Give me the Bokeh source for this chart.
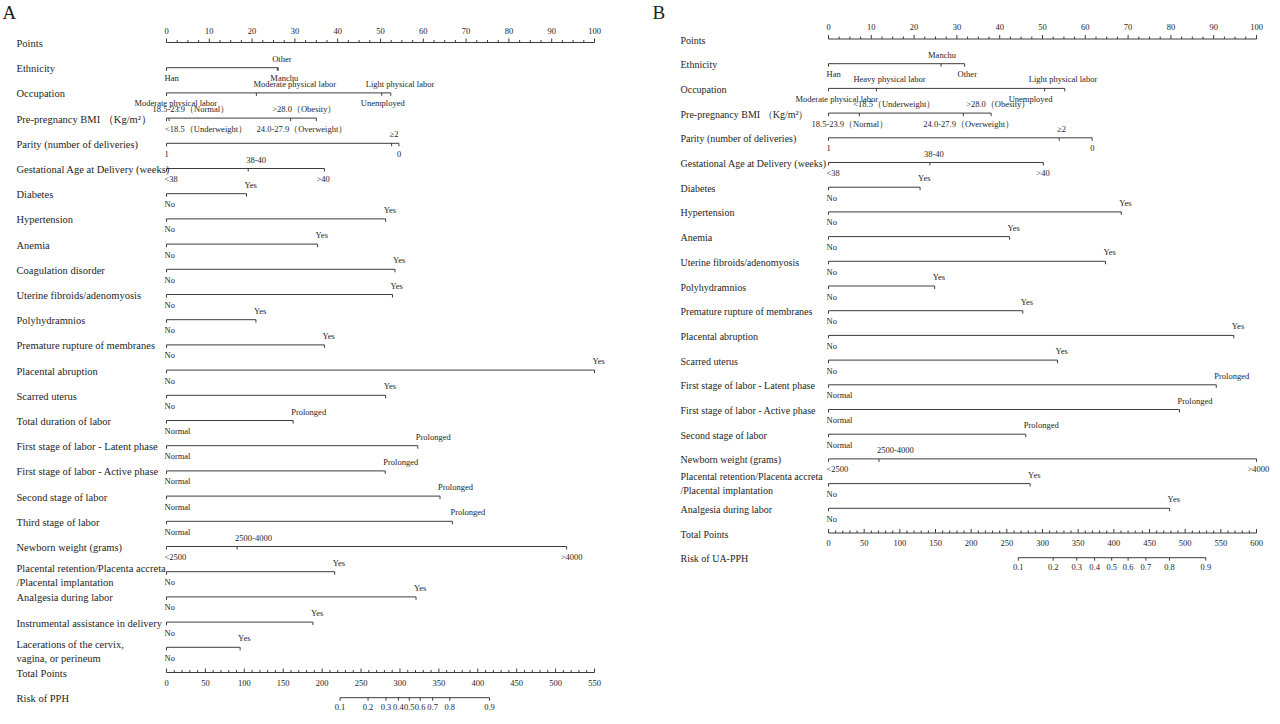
import numpy as np
from bokeh.plotting import figure
from bokeh.layouts import row
from bokeh.models import Range1d
from bokeh.core.properties import value
from bokeh.embed import file_html
from bokeh.resources import INLINE

# ---------------- data: panel A (PPH) ----------------
A_variables = [
    "Ethnicity", "Occupation", "Pre-pregnancy BMI （Kg/m²）", "Parity (number of deliveries)",
    "Gestational Age at Delivery (weeks)", "Diabetes", "Hypertension", "Anemia",
    "Coagulation disorder", "Uterine fibroids/adenomyosis", "Polyhydramnios",
    "Premature rupture of membranes", "Placental abruption", "Scarred uterus",
    "Total duration of labor", "First stage of labor - Latent phase",
    "First stage of labor - Active phase", "Second stage of labor", "Third stage of labor",
    "Newborn weight (grams)", "Placental retention/Placenta accreta\n/Placental implantation",
    "Analgesia during labor", "Instrumental assistance in delivery",
    "Lacerations of the cervix,\nvagina, or perineum",
]
YN = ["No", "Yes"]
NP = ["Normal", "Prolonged"]
BMI_LEVELS = ["18.5-23.9（Normal）", "<18.5（Underweight）", "24.0-27.9（Overweight）", ">28.0（Obesity）"]
A_levels = [
    ["Han", "Manchu", "Other"],
    ["Moderate physical labor", "Moderate physical labor", "Unemployed", "Light physical labor"],
    BMI_LEVELS,
    ["1", "≥2", "0"],
    ["<38", "38-40", ">40"],
    YN, YN, YN, YN, YN, YN, YN, YN, YN,
    NP, NP, NP, NP, NP,
    ["<2500", "2500-4000", ">4000"],
    YN, YN, YN, YN,
]
A_points = [
    [0, 25.9, 26.1],
    [0, 21.0, 50.3, 52.4],
    [0, 0.6, 29.0, 35.0],
    [0, 52.6, 54.3],
    [0, 19.1, 36.9],
    [0, 18.7], [0, 51.2], [0, 35.3], [0, 53.4], [0, 52.8], [0, 20.9], [0, 36.9],
    [0, 100.0], [0, 51.2],
    [0, 29.6], [0, 58.7], [0, 51.1], [0, 63.9], [0, 66.8],
    [0, 16.5, 93.5],
    [0, 39.3], [0, 58.3], [0, 34.2], [0, 17.2],
]
A_total_max = 550
A_risk_probs = [0.1, 0.2, 0.3, 0.4, 0.5, 0.6, 0.7, 0.8, 0.9]
A_risk_totals = [223, 259, 282, 298, 312, 326, 342, 364, 415]

# ---------------- data: panel B (UA-PPH) ----------------
B_variables = [
    "Ethnicity", "Occupation", "Pre-pregnancy BMI （Kg/m²）", "Parity (number of deliveries)",
    "Gestational Age at Delivery (weeks)", "Diabetes", "Hypertension", "Anemia",
    "Uterine fibroids/adenomyosis", "Polyhydramnios", "Premature rupture of membranes",
    "Placental abruption", "Scarred uterus", "First stage of labor - Latent phase",
    "First stage of labor - Active phase", "Second stage of labor", "Newborn weight (grams)",
    "Placental retention/Placenta accreta\n/Placental implantation", "Analgesia during labor",
]
B_levels = [
    ["Han", "Manchu", "Other"],
    ["Moderate physical labor", "Heavy physical labor", "Unemployed", "Light physical labor"],
    BMI_LEVELS,
    ["1", "≥2", "0"],
    ["<38", "38-40", ">40"],
    YN, YN, YN, YN, YN, YN, YN, YN,
    NP, NP, NP,
    ["<2500", "2500-4000", ">4000"],
    YN, YN,
]
B_points = [
    [0, 26.3, 31.8],
    [0, 11.2, 50.5, 55.2],
    [0, 7.2, 31.5, 38.0],
    [0, 53.9, 61.6],
    [0, 23.7, 50.2],
    [0, 21.4], [0, 68.4], [0, 42.3], [0, 64.7], [0, 24.8], [0, 45.4], [0, 94.7], [0, 53.5],
    [0, 90.6], [0, 82.0], [0, 46.1],
    [0, 11.8, 100.0],
    [0, 47.1], [0, 79.7],
]
B_total_max = 600
B_risk_probs = [0.1, 0.2, 0.3, 0.4, 0.5, 0.6, 0.7, 0.8, 0.9]
B_risk_totals = [266, 315, 348, 373, 397, 420, 445, 478, 529]

# ---------------- layout (label placement) ----------------
A_sides = {"Ethnicity": "bba", "Occupation": "baba", "Pre-pregnancy BMI （Kg/m²）": "abba",
           "Parity (number of deliveries)": "bab", "Gestational Age at Delivery (weeks)": "bab",
           "Newborn weight (grams)": "bab"}
B_sides = {"Ethnicity": "bab", "Occupation": "baba", "Pre-pregnancy BMI （Kg/m²）": "baba",
           "Parity (number of deliveries)": "bab", "Gestational Age at Delivery (weeks)": "bab",
           "Newborn weight (grams)": "bab"}
A_nudge = {("Ethnicity", 1): -7, ("Ethnicity", 2): -6,
           ("Occupation", 0): -32, ("Occupation", 1): -3, ("Occupation", 2): -21, ("Occupation", 3): -25,
           ("Pre-pregnancy BMI （Kg/m²）", 0): -14, ("Pre-pregnancy BMI （Kg/m²）", 1): -4,
           ("Pre-pregnancy BMI （Kg/m²）", 2): -34, ("Pre-pregnancy BMI （Kg/m²）", 3): -44,
           ("Gestational Age at Delivery (weeks)", 2): -8, ("Newborn weight (grams)", 2): -6}
B_nudge = {("Ethnicity", 1): -13, ("Ethnicity", 2): -7,
           ("Occupation", 0): -33, ("Occupation", 1): -23, ("Occupation", 2): -36, ("Occupation", 3): -36,
           ("Pre-pregnancy BMI （Kg/m²）", 0): -17, ("Pre-pregnancy BMI （Kg/m²）", 1): -6,
           ("Pre-pregnancy BMI （Kg/m²）", 2): -40, ("Pre-pregnancy BMI （Kg/m²）", 3): -25,
           ("Gestational Age at Delivery (weeks)", 1): -6, ("Gestational Age at Delivery (weeks)", 2): -7,
           ("Newborn weight (grams)", 2): -9}

FONT = "Liberation Serif"
LINE = "#3c3c3c"
TXT = "#1e1e1e"
H = 716


def panel(letter, variables, levels, points, sides, nudge, total_max, risk_probs, risk_totals,
          risk_title, width, zero_px, ppt, row0_px, row_px, label_px, letter_px, row_fs, wrap_dy):
    x_start = -zero_px / ppt
    x_end = x_start + width / ppt
    y_top = -row0_px / row_px
    y_bot = y_top + H / row_px
    p = figure(width=width, height=H, x_range=Range1d(x_start, x_end),
               y_range=Range1d(y_bot, y_top), output_backend="svg", toolbar_location=None,
               x_axis_type=None, y_axis_type=None, min_border=0, outline_line_color=None)
    p.grid.visible = False
    dx = lambda px: px / ppt
    dy = lambda px: px / row_px
    lab_x = x_start + dx(label_px)

    sx0, sy0, sx1, sy1 = [], [], [], []
    small = {"x": [], "y": [], "t": []}
    rowlab = {"x": [], "y": [], "t": []}

    def seg(a, b, c, d):
        sx0.append(a); sy0.append(b); sx1.append(c); sy1.append(d)

    def add_small(x, y, t):
        small["x"].append(x); small["y"].append(y); small["t"].append(t)

    def add_rowlab(r, name):
        parts = name.split("\n")
        if len(parts) == 1:
            rowlab["x"].append(lab_x); rowlab["y"].append(r + dy(1)); rowlab["t"].append(name)
        else:
            for k, part in enumerate(parts):
                rowlab["x"].append(lab_x); rowlab["y"].append(r + dy(wrap_dy[k])); rowlab["t"].append(part)

    # Points scale
    add_rowlab(0, "Points")
    seg(0, 0, 100, 0)
    for v in np.arange(0, 100.01, 2.5):
        major = abs(v % 10) < 1e-6
        seg(v, 0, v, -dy(4 if major else 2.5))
    cx, cy, ct = [], [], []
    for v in range(0, 101, 10):
        cx.append(v); cy.append(-dy(12)); ct.append(str(v))

    # variables
    for i, name in enumerate(variables):
        r = i + 1
        add_rowlab(r, name)
        pts = points[i]
        seg(min(pts), r, max(pts), r)
        sd = sides.get(name, "ba")
        for j, (lv, v) in enumerate(zip(levels[i], pts)):
            seg(v, r, v, r + dy(3))
            yy = r + dy(-9 if sd[j] == "a" else 10.5)
            add_small(v + dx(nudge.get((name, j), -2)), yy, lv)

    # Total points
    rt = len(variables) + 1
    add_rowlab(rt, "Total Points")
    k = 100.0 / total_max
    seg(0, rt, 100, rt)
    for v in range(0, total_max + 1, 10):
        seg(v * k, rt, v * k, rt - dy(4 if v % 50 == 0 else 2.5))
        if v % 50 == 0:
            cx.append(v * k); cy.append(rt + dy(10)); ct.append(str(v))

    # Risk
    rr = rt + 1
    add_rowlab(rr, risk_title)
    seg(risk_totals[0] * k, rr, risk_totals[-1] * k, rr)
    for prob, tot in zip(risk_probs, risk_totals):
        seg(tot * k, rr, tot * k, rr + dy(3))
        cx.append(tot * k); cy.append(rr + dy(9.5)); ct.append(f"{prob:.1f}")

    p.segment(x0=sx0, y0=sy0, x1=sx1, y1=sy1, line_color=LINE, line_width=1)
    p.text(x=rowlab["x"], y=rowlab["y"], text=rowlab["t"], text_font=value(FONT),
           text_font_size=value(row_fs), text_align="left", text_baseline="middle", text_color=TXT)
    p.text(x=small["x"], y=small["y"], text=small["t"], text_font=value(FONT),
           text_font_size=value("8.5px"), text_align="left", text_baseline="middle", text_color=TXT)
    p.text(x=cx, y=cy, text=ct, text_font=value(FONT),
           text_font_size=value("8.5px"), text_align="center", text_baseline="middle", text_color=TXT)
    p.text(x=[x_start + dx(letter_px)], y=[y_top + dy(1)], text=[letter],
           text_font=value(FONT), text_font_size=value("19px"), text_align="left",
           text_baseline="top", text_color=TXT)
    return p


pA = panel("A", A_variables, A_levels, A_points, A_sides, A_nudge, A_total_max, A_risk_probs,
           A_risk_totals, "Risk of PPH", width=632, zero_px=166, ppt=4.28, row0_px=42,
           row_px=25.2, label_px=16, letter_px=2, row_fs="10.5px", wrap_dy=(-3, 11))
pB = panel("B", B_variables, B_levels, B_points, B_sides, B_nudge, B_total_max, B_risk_probs,
           B_risk_totals, "Risk of UA-PPH", width=640, zero_px=196, ppt=4.28, row0_px=38.5,
           row_px=24.7, label_px=48, letter_px=20, row_fs="10px", wrap_dy=(-7, 7))

layout = row(pA, pB)
open("out.html", "w").write(file_html(layout, INLINE))
